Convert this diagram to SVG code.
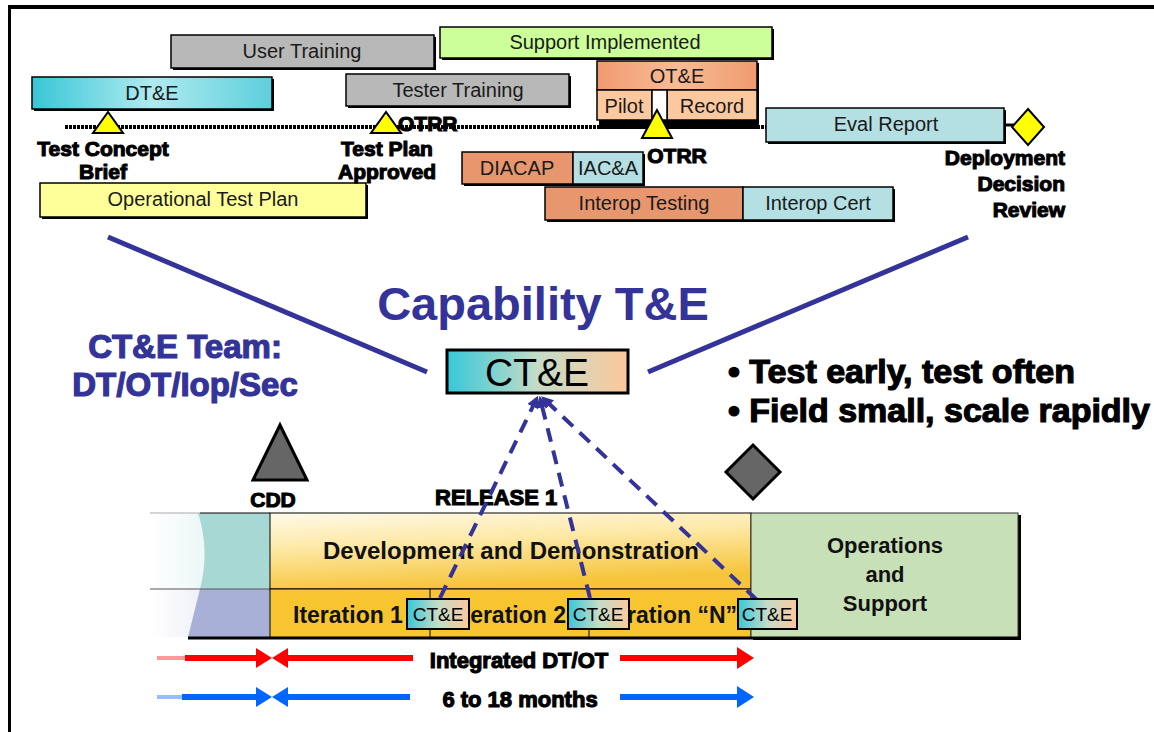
<svg xmlns="http://www.w3.org/2000/svg" width="1154" height="732" viewBox="0 0 1154 732">
<defs>
<style>
text { font-family: "Liberation Sans", Arial, sans-serif; }
.bt { font-size: 20px; fill: #1a1a1a; text-anchor: middle; }
.sh { fill: #000; }
.bx { stroke: #000; stroke-width: 1.5; }
.ms { font-size: 21px; font-weight: bold; fill: #000; text-anchor: middle; stroke: #000; stroke-width: 1.1; }
.blue { fill: #333399; font-weight: bold; text-anchor: middle; }
.tri { fill: #ffff00; stroke: #000; stroke-width: 2; }
.dash { stroke: #333399; stroke-width: 4; stroke-dasharray: 14 9; fill: none; }
.solid { stroke: #333399; stroke-width: 5; }
.it { font-size: 23px; font-weight: bold; fill: #111; }
.ct { font-size: 19px; fill: #000; text-anchor: middle; }
.big { font-size: 22px; font-weight: bold; fill: #111; text-anchor: middle; }
.bul { font-size: 34px; font-weight: bold; fill: #000; stroke: #000; stroke-width: 1.2; }
</style>
<linearGradient id="gDT" x1="0" y1="0" x2="1" y2="0">
<stop offset="0" stop-color="#38c6d6"/><stop offset="0.5" stop-color="#b0eaf0"/><stop offset="1" stop-color="#5ccfdc"/>
</linearGradient>
<linearGradient id="gOTE" x1="0" y1="0" x2="1" y2="0">
<stop offset="0" stop-color="#f09a70"/><stop offset="0.5" stop-color="#f8bc94"/><stop offset="1" stop-color="#f09a70"/>
</linearGradient>
<linearGradient id="gCTE" x1="0" y1="0" x2="1" y2="0">
<stop offset="0" stop-color="#36c8d8"/><stop offset="0.5" stop-color="#c4dcc8"/><stop offset="1" stop-color="#fcc89c"/>
</linearGradient>
<linearGradient id="gDev" x1="0" y1="0" x2="0.3" y2="1">
<stop offset="0" stop-color="#fffaea"/><stop offset="0.45" stop-color="#fde8a4"/><stop offset="1" stop-color="#f6c43a"/>
</linearGradient>
<linearGradient id="gFadeT" x1="0" y1="0" x2="1" y2="0">
<stop offset="0" stop-color="#ffffff"/><stop offset="1" stop-color="#d6eeee"/>
</linearGradient>
<linearGradient id="gFadeB" x1="0" y1="0" x2="1" y2="0">
<stop offset="0" stop-color="#ffffff"/><stop offset="1" stop-color="#dcdef0"/>
</linearGradient>
<marker id="ah" viewBox="0 0 10 10" refX="8" refY="5" markerWidth="3" markerHeight="3" orient="auto">
<path d="M0,0 L10,5 L0,10 Z" fill="#333399"/>
</marker>
</defs>

<rect width="1154" height="732" fill="#fff"/>
<g id="frame">
<line x1="8" y1="7" x2="1154" y2="7" stroke="#000" stroke-width="4"/>
<line x1="9.5" y1="7" x2="9.5" y2="732" stroke="#000" stroke-width="3"/>
</g>

<g id="timeline">
<line x1="65" y1="127" x2="766" y2="127" stroke="#000" stroke-width="4" stroke-dasharray="3 1"/>
<line x1="1004" y1="125" x2="1014" y2="125" stroke="#000" stroke-width="3"/>
</g>

<g id="user-training">
<rect class="sh" x="173" y="37" width="263" height="33"/>
<rect class="bx" x="171" y="35" width="263" height="33" fill="#b8b8b8"/>
<text class="bt" x="302" y="58">User Training</text>
</g>
<g id="support-implemented">
<rect class="sh" x="442" y="29" width="332" height="31"/>
<rect class="bx" x="440" y="27" width="332" height="31" fill="#ccff99"/>
<text class="bt" x="605" y="49">Support Implemented</text>
</g>
<g id="dte">
<rect class="sh" x="34" y="79" width="240" height="32"/>
<rect class="bx" x="32" y="77" width="240" height="32" fill="url(#gDT)"/>
<text class="bt" x="152" y="100">DT&amp;E</text>
</g>
<g id="tester-training">
<rect class="sh" x="348" y="76" width="223" height="32"/>
<rect class="bx" x="346" y="74" width="223" height="32" fill="#b8b8b8"/>
<text class="bt" x="458" y="97">Tester Training</text>
</g>
<g id="ote">
<rect class="sh" x="599" y="63" width="160" height="66"/>
<rect class="bx" x="597" y="61" width="160" height="29" fill="url(#gOTE)"/>
<text class="bt" x="677" y="83">OT&amp;E</text>
</g>
<g id="pilot">
<rect class="bx" x="597" y="90" width="55" height="30" fill="#fcc8a0"/>
<text class="bt" x="624" y="113">Pilot</text>
</g>
<g id="record">
<rect class="bx" x="667" y="90" width="90" height="30" fill="#fcc8a0"/>
<text class="bt" x="712" y="113">Record</text>
</g>
<rect x="652" y="90" width="15" height="30" fill="#fff" stroke="#000" stroke-width="1.5"/>

<g id="eval-report">
<rect class="sh" x="768" y="110" width="238" height="34"/>
<rect class="bx" x="766" y="108" width="238" height="34" fill="#b4e0e4"/>
<text class="bt" x="886" y="131">Eval Report</text>
</g>
<g id="op-test-plan">
<rect class="sh" x="42" y="185" width="326" height="34"/>
<rect class="bx" x="40" y="183" width="326" height="34" fill="#ffff99"/>
<text class="bt" x="203" y="206">Operational Test Plan</text>
</g>
<g id="interop-testing">
<rect class="sh" x="547" y="189" width="348" height="33"/>
<rect class="bx" x="545" y="187" width="198" height="33" fill="#e8966e"/>
<text class="bt" x="644" y="210">Interop Testing</text>
</g>
<g id="interop-cert">
<rect class="bx" x="743" y="187" width="150" height="33" fill="#b4e0e4"/>
<text class="bt" x="818" y="210">Interop Cert</text>
</g>
<g id="diacap">
<rect class="sh" x="464" y="154" width="181" height="32"/>
<rect class="bx" x="462" y="152" width="111" height="32" fill="#e8966e"/>
<text class="bt" x="517" y="175">DIACAP</text>
</g>
<g id="iaca">
<rect class="bx" x="573" y="152" width="70" height="32" fill="#b4e0e4"/>
<text class="bt" x="608" y="175">IAC&amp;A</text>
</g>

<g id="milestones">
<polygon class="tri" points="108,112 93,133 123,133"/>
<polygon class="tri" points="386,112 371,133 401,133"/>
<polygon class="tri" points="657,110 642,138 672,138"/>
<polygon class="tri" points="1028,109 1044,127 1028,145 1012,127"/>
</g>

<g id="milestone-labels">
<text class="ms" x="103" y="156">Test Concept</text>
<text class="ms" x="103" y="179">Brief</text>
<text class="ms" x="387" y="156">Test Plan</text>
<text class="ms" x="387" y="179">Approved</text>
<text class="ms" x="398" y="131" style="text-anchor:start">OTRR</text>
<text class="ms" x="677" y="163">OTRR</text>
<text class="ms" x="1065" y="165" style="text-anchor:end">Deployment</text>
<text class="ms" x="1065" y="191" style="text-anchor:end">Decision</text>
<text class="ms" x="1065" y="217" style="text-anchor:end">Review</text>
</g>

<g id="titles">
<text class="blue" x="543" y="320" font-size="47">Capability T&amp;E</text>
<text class="blue" x="185" y="358" font-size="33" stroke="#333399" stroke-width="1.2">CT&amp;E Team:</text>
<text class="blue" x="185" y="396" font-size="33" stroke="#333399" stroke-width="1.2">DT/OT/Iop/Sec</text>
</g>

<g id="cte-main">
<rect x="447" y="350" width="181" height="43" fill="url(#gCTE)" stroke="#000" stroke-width="3"/>
<text x="537" y="386" font-size="39" fill="#000" text-anchor="middle">CT&amp;E</text>
</g>

<g id="bullets">
<text class="bul" x="728" y="383">• Test early, test often</text>
<text class="bul" x="728" y="422">• Field small, scale rapidly</text>
</g>

<g id="cdd">
<polygon points="280,425 253,480 307,480" fill="#666" stroke="#000" stroke-width="3"/>
<text class="ms" x="273" y="507">CDD</text>
</g>
<g id="drr-diamond">
<polygon points="753,445 780,472 753,499 726,472" fill="#666" stroke="#000" stroke-width="3"/>
</g>
<text class="ms" x="435" y="505" style="text-anchor:start;font-size:22px">RELEASE 1</text>

<g id="pre-phase">
<rect x="150" y="513" width="120" height="76" fill="url(#gFadeT)"/>
<path d="M198,513 Q210,550 200,589 L270,589 L270,513 Z" fill="#a8d8d4"/>
<rect x="150" y="589" width="120" height="48" fill="url(#gFadeB)"/>
<path d="M200,589 L188,637 L270,637 L270,589 Z" fill="#a8b0d8"/>
<line x1="150" y1="513" x2="200" y2="513" stroke="#aaa" stroke-width="1"/>
<line x1="200" y1="513" x2="270" y2="513" stroke="#000" stroke-width="1"/>
<line x1="150" y1="589" x2="270" y2="589" stroke="#555" stroke-width="1"/>
</g>

<g id="dev-demo">
<rect x="270" y="513" width="481" height="76" fill="url(#gDev)" stroke="#000" stroke-width="1"/>
<text class="big" x="511" y="559" style="font-size:24px">Development and Demonstration</text>
</g>

<g id="iterations">
<rect x="270" y="589" width="481" height="49" fill="#f7c530" stroke="#000" stroke-width="1"/>
<line x1="430" y1="589" x2="430" y2="638" stroke="#000" stroke-width="1"/>
<line x1="589" y1="589" x2="589" y2="638" stroke="#000" stroke-width="1"/>
<text class="it" x="293" y="623">Iteration 1</text>
<text class="it" x="566" y="623" text-anchor="end">Iteration 2</text>
<text class="it" x="737" y="623" text-anchor="end">Iteration “N”</text>
</g>

<g id="ops-support">
<rect x="753" y="515" width="268" height="125" fill="#000"/>
<rect x="751" y="513" width="267" height="125" fill="#c8e0b8" stroke="#333" stroke-width="1"/>
<text class="big" x="885" y="553">Operations</text>
<text class="big" x="885" y="582">and</text>
<text class="big" x="885" y="611">Support</text>
</g>
<line x1="188" y1="638" x2="1020" y2="638" stroke="#000" stroke-width="3"/>

<g id="connectors">
<line class="solid" x1="108" y1="237" x2="427" y2="372"/>
<line class="solid" x1="968" y1="237" x2="648" y2="372"/>
<line class="dash" x1="440" y1="598" x2="537" y2="398" marker-end="url(#ah)"/>
<line class="dash" x1="590" y1="598" x2="540" y2="398" marker-end="url(#ah)"/>
<line class="dash" x1="757" y1="600" x2="543" y2="398" marker-end="url(#ah)"/>
</g>

<g id="cte-iter1">
<rect x="407" y="599" width="62" height="30" fill="url(#gCTE)" stroke="#000" stroke-width="2"/>
<text class="ct" x="438" y="621">CT&amp;E</text>
</g>
<g id="cte-iter2">
<rect x="568" y="599" width="61" height="30" fill="url(#gCTE)" stroke="#000" stroke-width="2"/>
<text class="ct" x="598" y="621">CT&amp;E</text>
</g>
<g id="cte-iterN">
<rect x="738" y="599" width="59" height="30" fill="url(#gCTE)" stroke="#000" stroke-width="2"/>
<text class="ct" x="767" y="621">CT&amp;E</text>
</g>

<g id="arrow-dtot">
<line x1="157" y1="658" x2="185" y2="658" stroke="#ff9999" stroke-width="4"/>
<line x1="185" y1="658" x2="260" y2="658" stroke="#ff0000" stroke-width="6"/>
<polygon points="256,648 272,658 256,668" fill="#ff0000"/>
<polygon points="288,648 272,658 288,668" fill="#ff0000"/>
<line x1="285" y1="658" x2="413" y2="658" stroke="#ff0000" stroke-width="6"/>
<line x1="620" y1="658" x2="740" y2="658" stroke="#ff0000" stroke-width="6"/>
<polygon points="737,647 754,658 737,669" fill="#ff0000"/>
<text class="ms" x="519" y="668" style="font-size:22px">Integrated DT/OT</text>
</g>
<g id="arrow-months">
<line x1="157" y1="697" x2="182" y2="697" stroke="#99bbff" stroke-width="4"/>
<line x1="182" y1="697" x2="260" y2="697" stroke="#0066ff" stroke-width="6"/>
<polygon points="256,687 272,697 256,707" fill="#0066ff"/>
<polygon points="288,687 272,697 288,707" fill="#0066ff"/>
<line x1="285" y1="697" x2="410" y2="697" stroke="#0066ff" stroke-width="6"/>
<line x1="620" y1="697" x2="740" y2="697" stroke="#0066ff" stroke-width="6"/>
<polygon points="737,686 754,697 737,708" fill="#0066ff"/>
<text class="ms" x="520" y="707" style="font-size:22px">6 to 18 months</text>
</g>
</svg>
